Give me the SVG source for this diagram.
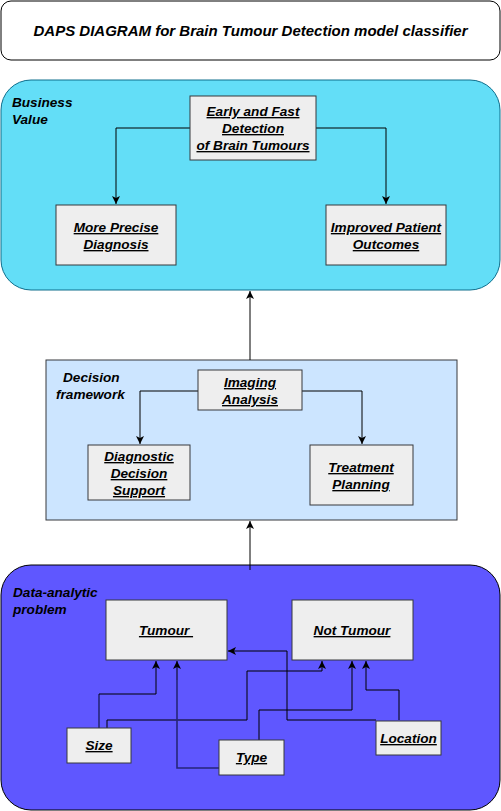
<svg xmlns="http://www.w3.org/2000/svg" width="501" height="811" viewBox="0 0 501 811">
<style>
.t{font-family:"Liberation Sans",Arial,sans-serif;font-weight:bold;font-style:italic;fill:#000}
.lbl{font-size:13.6px}
.box{fill:#EEEEEE;stroke:#36393D;stroke-width:1}
.bt{font-size:13.6px;text-anchor:middle;text-decoration:underline}
.c{fill:none;stroke:#000;stroke-width:1}
.cd{fill:none;stroke:#26267a;stroke-width:1.6}
</style>
<defs>
<marker id="ah" markerWidth="10" markerHeight="10" refX="8" refY="4" orient="auto" markerUnits="userSpaceOnUse">
<path d="M0,0 L8,4 L0,8 L2,4 Z" fill="#000"/>
</marker>
</defs>
<g id="title">
<rect x="1" y="1" width="499" height="59" rx="10" fill="#fff" stroke="#000"/>
<text class="t" x="250.5" y="36" font-size="15" text-anchor="middle">DAPS DIAGRAM for Brain Tumour Detection model classifier</text>
</g>
<g id="business">
<rect x="1" y="80" width="499" height="210" rx="30" fill="#63DEF7" stroke="#0F6E8C"/>
<text class="t lbl"><tspan x="12" y="107">Business</tspan><tspan x="12" y="124">Value</tspan></text>
</g>
<g id="decision">
<rect x="46" y="360" width="411" height="160" fill="#CCE5FF" stroke="#36393D"/>
<text class="t lbl"><tspan x="63" y="382">Decision</tspan><tspan x="56" y="399">framework</tspan></text>
</g>
<g id="data">
<rect x="1" y="565" width="499" height="245" rx="30" fill="#5F57FF" stroke="#000"/>
<text class="t lbl"><tspan x="13" y="597">Data-analytic</tspan><tspan x="13" y="614">problem</tspan></text>
</g>
<g id="connectors">
<path class="c" d="M190,128 H116 V204" marker-end="url(#ah)"/>
<path class="c" d="M316,128 H386 V204" marker-end="url(#ah)"/>
<path class="c" d="M250,360 V291" marker-end="url(#ah)"/>
<path class="c" d="M198,391 H140 V444" marker-end="url(#ah)"/>
<path class="c" d="M302,391 H362 V444" marker-end="url(#ah)"/>
<path class="c" d="M250,570 V521" marker-end="url(#ah)"/>
<path class="cd" d="M99,728 V694"/>
<path class="c" d="M99,694 H156 V661" marker-end="url(#ah)"/>
<path class="c" d="M107,728 V720 H247 V671 H322 V661" marker-end="url(#ah)"/>
<path class="cd" d="M219,768 H177 V680"/>
<path class="c" d="M177,680 V661" marker-end="url(#ah)"/>
<path class="c" d="M259,740 V710 H352 V661" marker-end="url(#ah)"/>
<path class="c" d="M376,720 H287 V651 H228" marker-end="url(#ah)"/>
<path class="c" d="M399,720 V690 H366 V661" marker-end="url(#ah)"/>
</g>
<g id="early">
<rect class="box" x="190" y="96" width="126" height="64"/>
<text class="t bt"><tspan x="253" y="116">Early and Fast</tspan><tspan x="253" y="133">Detection</tspan><tspan x="253" y="150">of Brain Tumours</tspan></text>
</g>
<g id="precise">
<rect class="box" x="56" y="205" width="120" height="60"/>
<text class="t bt"><tspan x="116" y="232">More Precise</tspan><tspan x="116" y="249">Diagnosis</tspan></text>
</g>
<g id="improved">
<rect class="box" x="326" y="205" width="120" height="60"/>
<text class="t bt"><tspan x="386" y="232">Improved Patient</tspan><tspan x="386" y="249">Outcomes</tspan></text>
</g>
<g id="imaging">
<rect class="box" x="198" y="370" width="104" height="40"/>
<text class="t bt"><tspan x="250" y="387">Imaging</tspan><tspan x="250" y="404">Analysis</tspan></text>
</g>
<g id="diagnostic">
<rect class="box" x="88" y="445" width="102" height="55"/>
<text class="t bt"><tspan x="139" y="461">Diagnostic</tspan><tspan x="139" y="478">Decision</tspan><tspan x="139" y="495">Support</tspan></text>
</g>
<g id="treatment">
<rect class="box" x="310" y="445" width="103" height="60"/>
<text class="t bt"><tspan x="361" y="472">Treatment</tspan><tspan x="361" y="489">Planning</tspan></text>
</g>
<g id="tumour">
<rect class="box" x="106" y="600" width="121" height="60"/>
<text class="t bt" x="166" y="635" xml:space="preserve">Tumour&#160;</text>
</g>
<g id="nottumour">
<rect class="box" x="292" y="600" width="121" height="60"/>
<text class="t bt" x="352" y="635">Not Tumour</text>
</g>
<g id="size">
<rect class="box" x="67" y="728" width="64" height="35"/>
<text class="t bt" x="99" y="750">Size</text>
</g>
<g id="type">
<rect class="box" x="219" y="740" width="65" height="35"/>
<text class="t bt" x="251.5" y="762">Type</text>
</g>
<g id="location">
<rect class="box" x="376" y="721" width="65" height="34"/>
<text class="t bt" x="408.5" y="743">Location</text>
</g>
</svg>
